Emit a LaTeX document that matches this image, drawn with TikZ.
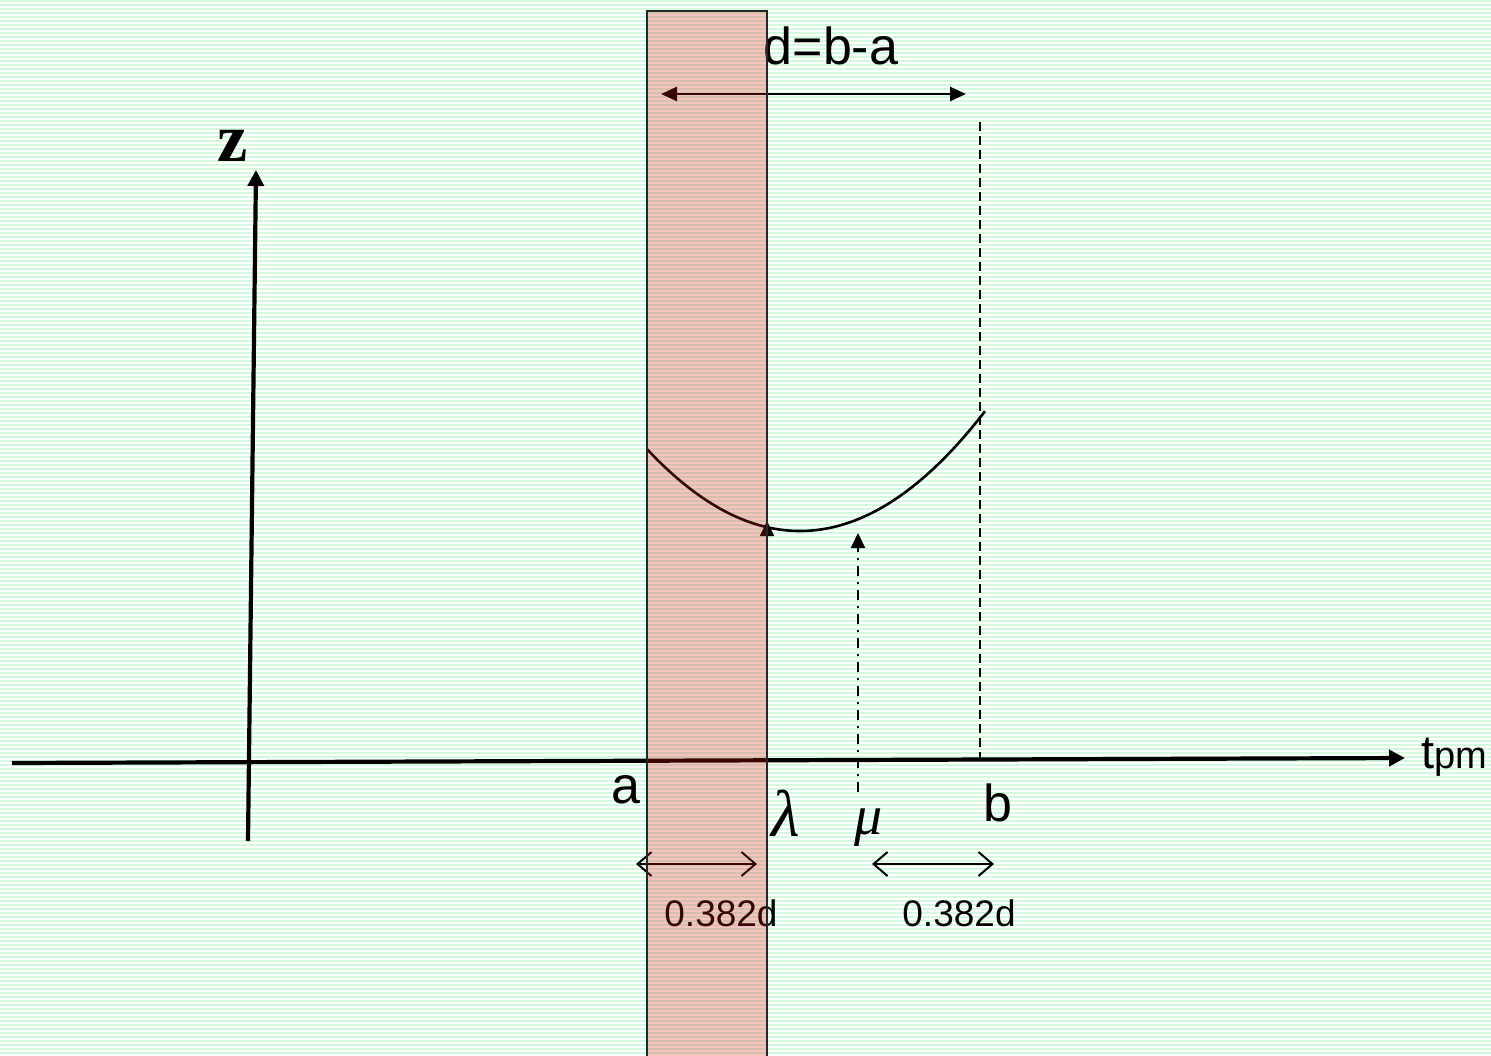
\documentclass[tikz,border=0pt]{standalone}
\usepackage{fontspec}
\setmainfont{Liberation Sans}
\newfontfamily\greekserif{Liberation Serif}
\usetikzlibrary{arrows.meta}
\definecolor{stripe}{RGB}{212,250,222}
\definecolor{band}{RGB}{216,30,20}
\tikzset{
  axisline/.style={line width=4.2pt,-{Triangle[length=16pt,width=16pt]}},
  sanslabel/.style={inner sep=0pt,font=\fontsize{52}{60}\selectfont},
  smalllabel/.style={inner sep=0pt,font=\fontsize{37}{44}\selectfont},
  thinarrow/.style={line width=2pt,{Straight Barb[length=14pt,width=24pt]}-{Straight Barb[length=14pt,width=24pt]}},
  dasharrow/.style={line width=2.2pt,dash pattern=on 9pt off 5pt,-{Triangle[length=15pt,width=14pt]}},
  dashdotarrow/.style={line width=2.2pt,dash pattern=on 10pt off 6pt on 2pt off 6pt,-{Triangle[length=15pt,width=14pt]}},
}
\begin{document}
\begin{tikzpicture}[x=1pt,y=-1pt]
\useasboundingbox (0,0) rectangle (1491,1055);
\fill[white] (0,0) rectangle (1491,1055);
\foreach \k in {0,...,263} {\fill[stripe] (0,4*\k) rectangle (1491,4*\k+2.2);}
% coordinates
\coordinate (zbot) at (248,841);
\coordinate (ztop) at (256,170);
\coordinate (tleft) at (12,763);
\coordinate (tright) at (1405,758);
\coordinate (dl) at (661,94);
\coordinate (dr) at (966,94);
\coordinate (btop) at (980,122);
\coordinate (bbot) at (980,758);
\coordinate (lbot) at (767,760);
\coordinate (ltop) at (767,521);
\coordinate (mbot) at (858,792);
\coordinate (mtop) at (858,533);
\coordinate (s1l) at (636,864);
\coordinate (s1r) at (757,864);
\coordinate (s2l) at (872,864);
\coordinate (s2r) at (994,864);
% axes
\draw[axisline] (zbot) -- (ztop);
\draw[axisline] (tleft) -- (tright);
\node[inner sep=0pt,font=\fontsize{68}{74}\selectfont\greekserif\bfseries] (zlab) at (233,146) {z};
\node[inner sep=0pt,anchor=west] (tlab) at (1421,757) {\fontsize{47}{52}\selectfont t\fontsize{38}{42}\selectfont pm};
% d = b - a
\node[sanslabel] (dlab) at (831,46) {d=b-a};
\draw[line width=2.6pt,{Triangle[length=16pt,width=14pt]}-{Triangle[length=16pt,width=14pt]}] (dl) -- (dr);
% dashed at b
\draw[line width=2.2pt,dash pattern=on 9pt off 5pt] (btop) -- (bbot);
% curve (parabola)
\draw[line width=2.6pt] plot[domain=647:985,samples=80,smooth] (\x,{531-(0.05916*(\x-800))^2});
% lambda, mu arrows
\draw[dasharrow] (lbot) -- (ltop);
\draw[dashdotarrow] (mbot) -- (mtop);
% labels
\node[sanslabel] (alab) at (626,790) {a};
\node[sanslabel] (blab) at (998,803) {b};
\node[inner sep=0pt,font=\fontsize{66}{72}\selectfont\greekserif\itshape] (lam) at (786,813) {λ};
\node[inner sep=0pt,font=\fontsize{56}{64}\selectfont\greekserif\itshape] (mu) at (869,828) {μ};
% small arrows
\draw[thinarrow] (s1l) -- (s1r);
\draw[thinarrow] (s2l) -- (s2r);
\node[smalllabel] (l1) at (721,913) {0.382d};
\node[smalllabel] (l2) at (959,913) {0.382d};
% band
\fill[band,fill opacity=0.26] (647,11) rectangle (767,1056);
\draw[line width=1.5pt,black!85] (647,1056) -- (647,11) -- (767,11) -- (767,1056);
\end{tikzpicture}
\end{document}
